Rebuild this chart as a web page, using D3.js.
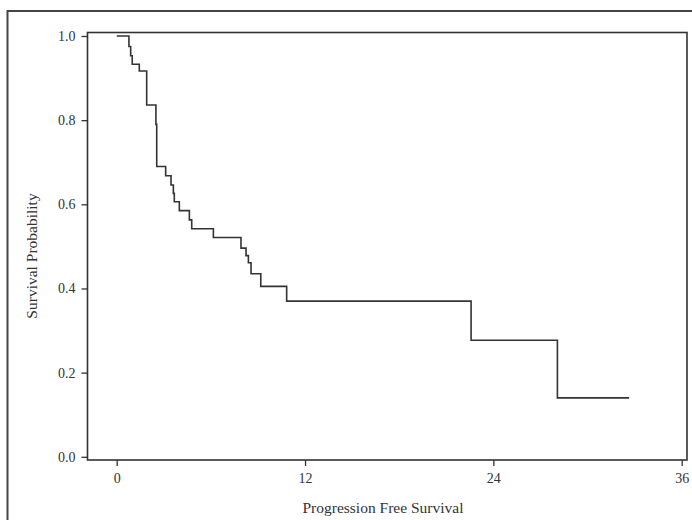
<!DOCTYPE html>
<html>
<head>
<meta charset="utf-8">
<script src="https://cdn.jsdelivr.net/npm/d3@7"></script>
<style>
  body { margin: 0; background: #fff; }
  text { font-family: "Liberation Serif", "DejaVu Serif", serif; fill: #333; }
</style>
</head>
<body>
<div id="chart"></div>
<script>
// event times (months) and survival estimate after each step
var times = [0, 0.78, 0.89, 0.99, 1.44, 1.91, 2.50, 2.55, 3.12, 3.46, 3.61, 3.67, 3.99,
             4.63, 4.78, 6.16, 7.92, 8.24, 8.39, 8.56, 9.18, 10.83, 22.58, 28.08]
var survival = [1.0, 0.975, 0.953, 0.933, 0.917, 0.836, 0.79, 0.69, 0.668, 0.646, 0.626, 0.606, 0.585,
                0.563, 0.542, 0.521, 0.496, 0.478, 0.461, 0.435, 0.405, 0.370, 0.277, 0.140]
var lastTime = 32.65
var xTicks = [0, 12, 24, 36]
var yTicks = [0.0, 0.2, 0.4, 0.6, 0.8, 1.0]

var width = 692, height = 520
var frame = {left: 87.5, right: 687, top: 32.5, bottom: 460}

var svg = d3.select("#chart").append("svg")
  .attr("width", width)
  .attr("height", height)

/* outer border (runs off the right and bottom) */
svg.append("rect")
  .attr("x", 7.5).attr("y", 11)
  .attr("width", 720).attr("height", 540)
  .attr("fill", "none")
  .attr("stroke", "#444")
  .attr("stroke-width", 2)

var x = d3.scaleLinear().domain([0, 36]).range([116.7, 681.7])
var y = d3.scaleLinear().domain([0, 1]).range([456.8, 36])

/* plot frame */
svg.append("rect")
  .attr("x", frame.left).attr("y", frame.top)
  .attr("width", frame.right - frame.left)
  .attr("height", frame.bottom - frame.top)
  .attr("fill", "none")
  .attr("stroke", "#333")
  .attr("stroke-width", 1.6)

/* Axes */
var xAxis = d3.axisBottom(x).tickValues(xTicks).tickSize(6).tickPadding(7).tickFormat(d3.format("d"))
var yAxis = d3.axisLeft(y).tickValues(yTicks).tickSize(6).tickPadding(6).tickFormat(d3.format(".1f"))

var gx = svg.append("g")
  .attr("transform", "translate(0," + frame.bottom + ")")
  .call(xAxis)
var gy = svg.append("g")
  .attr("transform", "translate(" + frame.left + ",0)")
  .call(yAxis)

;[gx, gy].forEach(function(g) {
  g.select(".domain").remove()
  g.selectAll(".tick line").attr("stroke", "#333").attr("stroke-width", 1.3)
  g.selectAll(".tick text")
    .attr("font-family", "Liberation Serif, serif")
    .attr("font-size", "14px")
    .attr("fill", "#333")
})

/* Axis titles */
svg.append("text")
  .attr("x", 383)
  .attr("y", 513)
  .attr("text-anchor", "middle")
  .attr("font-size", "15.5px")
  .text("Progression Free Survival")

svg.append("text")
  .attr("transform", "translate(37,256) rotate(-90)")
  .attr("text-anchor", "middle")
  .attr("font-size", "15.5px")
  .text("Survival Probability")

/* KM step curve */
var pts = times.map(function(t, i) { return {t: t, s: survival[i]} })
pts.push({t: lastTime, s: survival[survival.length - 1]})

var line = d3.line()
  .x(function(d) { return x(d.t) })
  .y(function(d) { return y(d.s) })
  .curve(d3.curveStepAfter)

svg.append("path")
  .datum(pts)
  .attr("d", line)
  .attr("fill", "none")
  .attr("stroke", "#333")
  .attr("stroke-width", 1.6)
</script>
</body>
</html>
